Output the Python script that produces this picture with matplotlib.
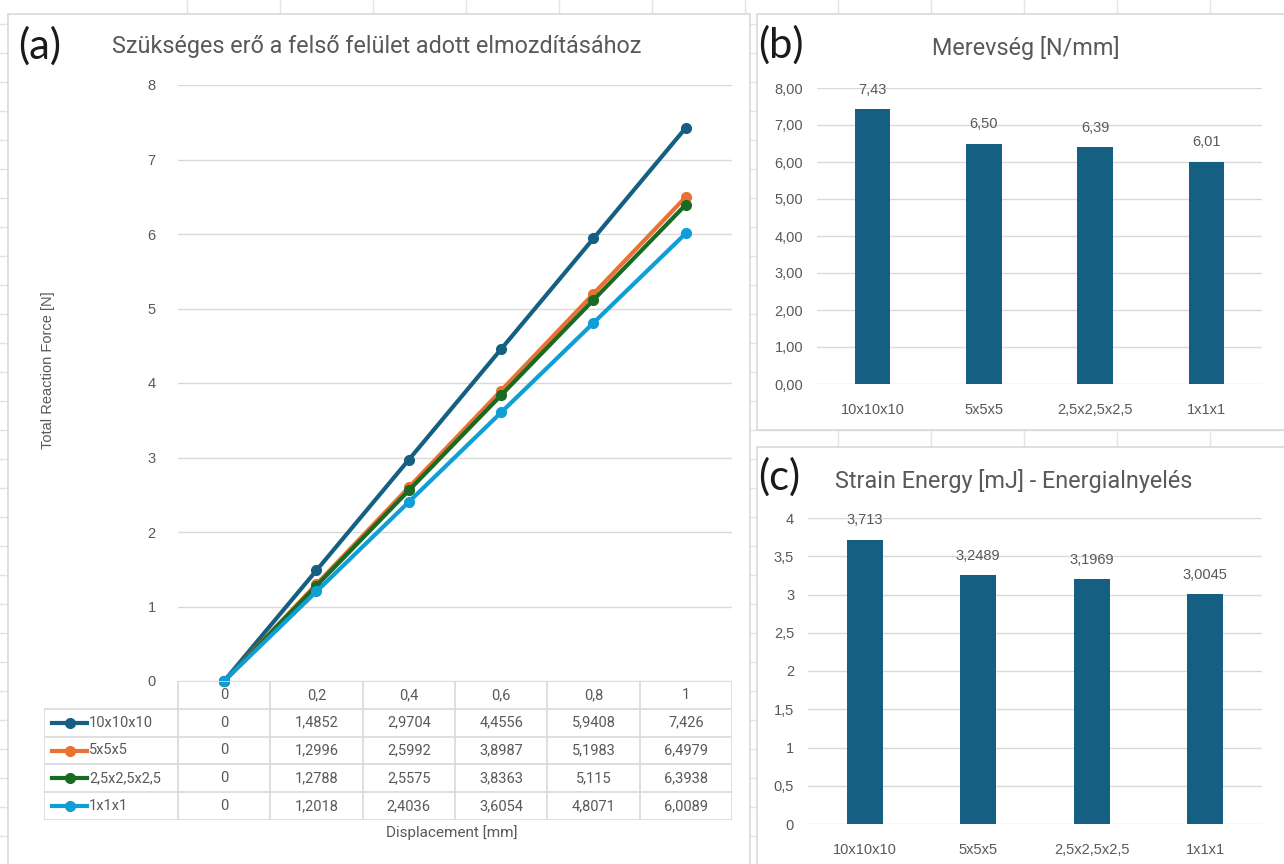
import matplotlib.pyplot as plt
from matplotlib.lines import Line2D
from matplotlib.patches import Rectangle

# data
displacement = ['0', '0,2', '0,4', '0,6', '0,8', '1']
series_names = ['10x10x10', '5x5x5', '2,5x2,5x2,5', '1x1x1']
force_10 = [0, 1.4852, 2.9704, 4.4556, 5.9408, 7.426]
force_5 = [0, 1.2996, 2.5992, 3.8987, 5.1983, 6.4979]
force_25 = [0, 1.2788, 2.5575, 3.8363, 5.115, 6.3938]
force_1 = [0, 1.2018, 2.4036, 3.6054, 4.8071, 6.0089]
stiffness = [7.426, 6.4979, 6.3938, 6.0089]
energy = [3.713, 3.2489, 3.1969, 3.0045]

colors = ['#156082', '#E97132', '#196B24', '#0F9ED5']
bar_color = '#156082'
txt = '#595959'
grid_c = '#D9D9D9'

W, H = 1284, 864
fig = plt.figure(figsize=(12.84, 8.64), dpi=100)
fig.patch.set_facecolor('white')


def fx(px):
    return px / W


def fy(py):
    return 1 - py / H


def comma(v, fmt='{:g}'):
    return fmt.format(v).replace('.', ',')


# spreadsheet grid behind the charts
for x in range(187, W, 93):
    fig.add_artist(Line2D([fx(x), fx(x)], [0, 1], color='#E3E3E3', lw=1, zorder=-3))
for y in range(24, H, 29):
    fig.add_artist(Line2D([0, 1], [fy(y), fy(y)], color='#E3E3E3', lw=1, zorder=-3))

# chart frames
for (x0, y0, x1, y1) in [(8, 14, 750, 870), (757, 14, 1290, 430), (757, 447, 1290, 870)]:
    fig.add_artist(Rectangle((fx(x0), fy(y1)), fx(x1 - x0), (y1 - y0) / H,
                             facecolor='white', edgecolor=grid_c, lw=1.2, zorder=-1))

# ---------------- (a) line chart ----------------
ax = fig.add_axes([fx(178), fy(681), fx(732 - 178), (681 - 85) / H])
ax.set_facecolor('none')
xs = range(len(displacement))
for vals, c in zip([force_10, force_5, force_25, force_1], colors):
    ax.plot(xs, vals, color=c, lw=3, marker='o', ms=7, clip_on=False, zorder=3)
ax.set_xlim(-0.5, 5.5)
ax.set_ylim(0, 8)
ax.set_yticks(range(0, 9))
ax.set_xticks([])
ax.yaxis.grid(True, color=grid_c, lw=1)
ax.set_axisbelow(True)
for s in ax.spines.values():
    s.set_visible(False)
ax.tick_params(axis='y', length=0, pad=16, labelsize=10.5, labelcolor=txt)
for lab in ax.get_yticklabels():
    lab.set_fontfamily('Liberation Sans')

fig.text(fx(18), fy(46), '(a)', fontsize=30, color='#1a1a1a', va='center', family='Lato')
fig.text(fx(112), fy(47), 'Szükséges erő a felső felület adott elmozdításához', fontsize=16.8,
         color=txt, va='center', family='Roboto')
fig.text(fx(48), fy(370), 'Total Reaction Force [N]', rotation=90, fontsize=10.5, color=txt,
         ha='center', va='center', family='Liberation Sans')
fig.text(fx(452), fy(833), 'Displacement [mm]', fontsize=11, color=txt,
         ha='center', va='center', family='Roboto')

# data table under the line chart
tx = fig.add_axes([fx(44), fy(820), fx(732 - 44), (820 - 681) / H])
tx.axis('off')
left = -0.5 - (178 - 44) / ((732 - 178) / 6)
tx.set_xlim(left, 5.5)
tx.set_ylim(5, 0)
tk = dict(color=grid_c, lw=1.2)
tx.plot([-0.5, 5.5], [0, 0], **tk)
for r in range(1, 6):
    tx.plot([left, 5.5], [r, r], **tk)
for c in range(7):
    tx.plot([c - 0.5, c - 0.5], [0, 5], **tk)
tx.plot([left, left], [1, 5], **tk)
for i, d in enumerate(displacement):
    tx.text(i, 0.5, d, ha='center', va='center', fontsize=10.5, color=txt, family='Roboto')
rows = [force_10, force_5, force_25, force_1]
for r, (name, vals, c) in enumerate(zip(series_names, rows, colors), start=1):
    tx.plot([left + 0.09, left + 0.47], [r + 0.5, r + 0.5], color=c, lw=3)
    tx.plot([left + 0.28], [r + 0.5], marker='o', color=c, ms=7)
    tx.text(left + 0.49, r + 0.5, name, ha='left', va='center', fontsize=10.5, color=txt, family='Roboto')
    for i, v in enumerate(vals):
        tx.text(i, r + 0.5, comma(v), ha='center', va='center', fontsize=10.5, color=txt, family='Roboto')


# ---------------- (b) and (c) bar charts ----------------
def bar_panel(rect, vals, ylim, step, tick_fmt, label_fmt):
    b = fig.add_axes(rect)
    b.set_facecolor('none')
    pos = range(len(vals))
    b.bar(pos, vals, width=0.32, color=bar_color, zorder=3)
    for p, v in zip(pos, vals):
        b.annotate(label_fmt(v), (p, v), xytext=(0, 9), textcoords='offset points',
                   ha='center', va='bottom', fontsize=10.5, color=txt, family='Liberation Sans')
    b.set_xlim(-0.5, len(vals) - 0.5)
    b.set_ylim(0, ylim)
    ticks = [k * step for k in range(int(round(ylim / step)) + 1)]
    b.set_yticks(ticks)
    b.set_yticklabels([tick_fmt(t) for t in ticks], family='Liberation Sans')
    b.set_xticks(list(pos))
    b.set_xticklabels(series_names, family='Liberation Sans')
    b.yaxis.grid(True, color=grid_c, lw=1)
    b.set_axisbelow(True)
    for s in b.spines.values():
        s.set_visible(False)
    b.tick_params(length=0, labelsize=10.5, labelcolor=txt)
    b.tick_params(axis='x', pad=14)
    b.tick_params(axis='y', pad=10)
    return b


bar_panel([fx(817), fy(384), fx(1262 - 817), (384 - 88) / H], stiffness, 8, 1,
          lambda t: comma(t, '{:.2f}'), lambda v: comma(v, '{:.2f}'))
fig.text(fx(758), fy(45), '(b)', fontsize=30, color='#1a1a1a', va='center', family='Lato')
fig.text(fx(1026), fy(48), 'Merevség [N/mm]', fontsize=16.8, color=txt,
         ha='center', va='center', family='Roboto')

bar_panel([fx(808), fy(824), fx(1262 - 808), (824 - 518) / H], energy, 4, 0.5,
          lambda t: comma(t), lambda v: comma(v))
fig.text(fx(758), fy(477), '(c)', fontsize=30, color='#1a1a1a', va='center', family='Lato')
fig.text(fx(835), fy(481), 'Strain Energy [mJ] - Energialnyelés', fontsize=16.8, color=txt,
         ha='left', va='center', family='Roboto')

fig.savefig('out.png', dpi=100)
